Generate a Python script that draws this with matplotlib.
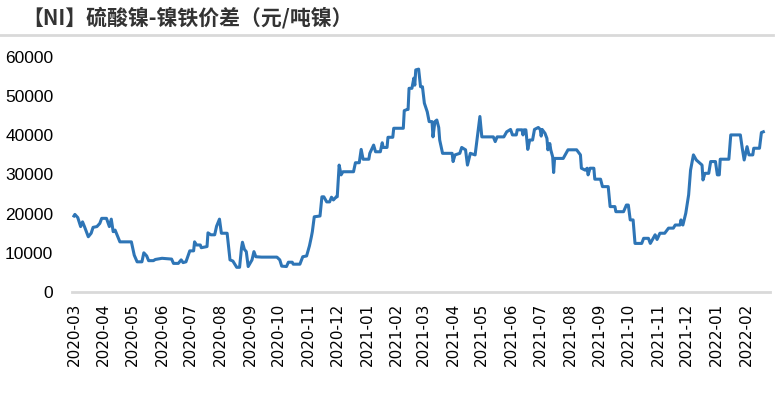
import pandas as pd
import matplotlib
matplotlib.use("Agg")
import matplotlib.pyplot as plt
import matplotlib.dates as mdates
from matplotlib.lines import Line2D

# ===================== 数据（读图估算） =====================
START = "2020-03-01"
# 距 START 的天数
days = [
    0, 1, 4, 7, 9, 11, 15, 18, 20, 24, 27, 29, 34, 37, 39, 41, 43, 48, 60, 63,
    66, 71, 73, 76, 78, 83, 85, 92, 102, 104, 109, 112, 114, 117, 121, 125, 126, 128, 132, 133,
    139, 140, 143, 147, 149, 152, 154, 160, 163, 166, 170, 173, 175, 176, 178, 180, 182, 186, 188, 190,
    196, 212, 215, 217, 222, 224, 228, 229, 236, 239, 243, 246, 248, 249, 251, 257, 259, 261, 264, 267,
    269, 271, 274, 275, 277, 279, 281, 292, 294, 298, 300, 302, 308, 309, 313, 315, 320, 322, 323, 327,
    328, 333, 334, 344, 345, 348, 349, 350, 353, 355, 356, 357, 360, 362, 364, 366, 369, 371, 374, 375,
    377, 379, 381, 382, 385, 395, 396, 398, 403, 405, 409, 411, 414, 419, 424, 426, 438, 440, 442, 449,
    452, 456, 458, 462, 463, 468, 469, 470, 472, 474, 476, 479, 481, 485, 487, 488, 489, 492, 494, 495,
    497, 498, 500, 501, 502, 511, 516, 525, 529, 530, 534, 536, 537, 539, 543, 544, 550, 552, 558, 560,
    565, 566, 574, 577, 579, 581, 584, 586, 593, 595, 600, 602, 604, 607, 609, 612, 617, 621, 626, 628,
    633, 634, 636, 639, 642, 644, 647, 650, 656, 657, 659, 663, 665, 670, 672, 674, 675, 684, 686, 696,
    698, 700, 703, 705, 709, 710, 716, 718, 720,
]
# 硫酸镍-镍铁价差（元/吨镍）
spread = [
    19400, 19800, 19000, 16700, 17900, 16700, 14100, 15000, 16500, 16700, 17500, 18800, 18800, 16700, 18600, 15400, 15800, 12800, 12800, 9400,
    7700, 7700, 10000, 9200, 8000, 8000, 8300, 8600, 8400, 7300, 7300, 8200, 7500, 7700, 10500, 10500, 12800, 12000, 12000, 11300,
    11600, 15100, 14600, 14600, 16800, 18600, 15000, 15000, 8200, 7900, 6300, 6300, 11200, 12700, 10900, 10300, 6500, 8200, 10300, 9000,
    8900, 8900, 8200, 6600, 6500, 7600, 7600, 7100, 7100, 9000, 9200, 11800, 14100, 15400, 19200, 19400, 24300, 24300, 23000, 23000,
    24200, 23500, 24300, 24300, 32400, 29900, 30700, 30700, 33000, 33000, 36400, 33900, 33900, 35400, 37500, 35800, 35800, 38100, 36900, 36900,
    39500, 39500, 41800, 41800, 46300, 46600, 46600, 52000, 52000, 54600, 52800, 56700, 56900, 52400, 52400, 48200, 46000, 43500, 43500, 39600,
    43500, 43900, 42000, 38800, 35400, 35400, 33300, 35000, 35400, 36900, 36300, 32400, 35400, 35000, 44800, 39600, 39600, 38400, 39600, 39600,
    40900, 41500, 40100, 40100, 41400, 41400, 40100, 41400, 41400, 36400, 38800, 38800, 41500, 42000, 41500, 39800, 41500, 40500, 39200, 36300,
    37900, 36300, 34500, 30500, 34100, 34100, 36300, 36300, 35000, 31600, 31100, 31600, 29900, 31600, 31600, 28800, 28800, 26900, 26900, 21800,
    21800, 20500, 20500, 22200, 22200, 18400, 18400, 12400, 12400, 13700, 13700, 12400, 13300, 14600, 13400, 15000, 15000, 16300, 16300, 17100,
    17100, 18400, 17100, 20100, 24800, 31100, 35000, 33700, 32400, 28600, 30300, 30300, 33300, 33300, 29900, 29900, 33900, 33900, 40100, 40100,
    36700, 33700, 37100, 35000, 35000, 36700, 36700, 40700, 40900,
]

TITLE = "【NI】硫酸镍-镍铁价差（元/吨镍）"
Y_TICKS = [0, 10000, 20000, 30000, 40000, 50000, 60000]

LINE_COLOR = "#2E75B6"
AXIS_GRAY = "#d9d9d9"

dates = pd.Timestamp(START) + pd.to_timedelta(days, unit="D")

# ===================== 作图 =====================
fig = plt.figure(figsize=(7.76, 4.12), dpi=100)
ax = fig.add_axes([0.0928, 0.2913, 0.8995, 0.5704])

ax.plot(dates, spread, color=LINE_COLOR, lw=2.2, solid_joinstyle="round")

ax.set_ylim(0, 60000)
ax.set_yticks(Y_TICKS)
ax.set_xlim(pd.Timestamp("2020-02-28"), pd.Timestamp("2022-02-26"))
ax.xaxis.set_major_locator(mdates.MonthLocator())
ax.xaxis.set_major_formatter(mdates.DateFormatter("%Y-%m"))

for s in ["top", "right", "left"]:
    ax.spines[s].set_visible(False)
ax.spines["bottom"].set_color(AXIS_GRAY)
ax.spines["bottom"].set_linewidth(2)

ax.tick_params(axis="both", length=0, colors="#000000")
ax.tick_params(axis="y", pad=13.5, labelsize=12.5)
ax.tick_params(axis="x", pad=8, labelrotation=90, labelsize=11)
for lab in ax.get_yticklabels():
    lab.set_family("Liberation Sans")

# 标题 + 分隔线
fig.text(22 / 776, 1 - 18 / 412, TITLE, fontsize=15, fontweight="bold",
         family=["Noto Sans CJK SC", "DejaVu Sans"], ha="left", va="center", color="#333333")
fig.add_artist(Line2D([0, 773 / 776], [1 - 34.5 / 412] * 2, color=AXIS_GRAY, lw=2))

fig.savefig("out.png", dpi=100)
